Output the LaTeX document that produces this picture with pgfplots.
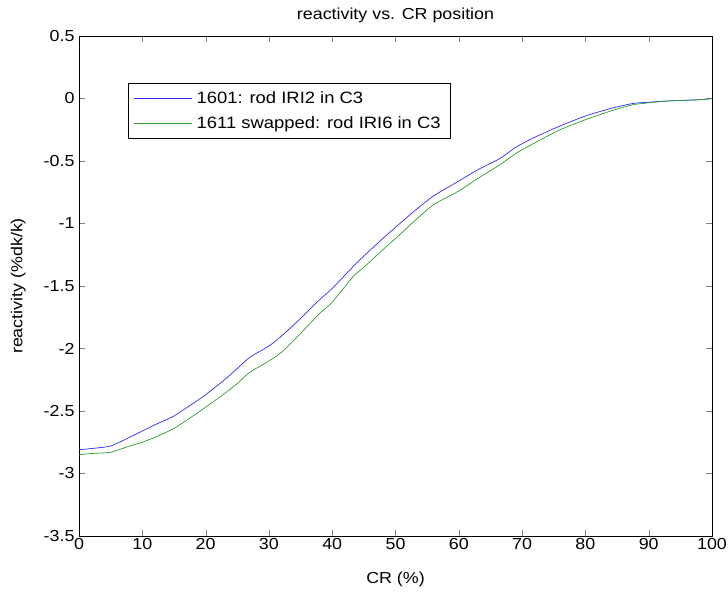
\documentclass[border=0pt]{standalone}
\usepackage{pgfplots}
\pgfplotsset{compat=1.18}
\usepackage{fontspec}
\setmainfont[FakeStretch=1.12]{Liberation Sans}
\definecolor{mblue}{RGB}{45,45,250}
\definecolor{mgreen}{RGB}{45,155,45}
\begin{document}
\begin{tikzpicture}[x=1bp,y=1bp]
\useasboundingbox (0,0) rectangle (728,592);
\begin{axis}[
  at={(79bp,56bp)}, anchor=south west,
  scale only axis, width=633bp, height=500bp,
  xmin=0, xmax=100, ymin=-3.5, ymax=0.5,
  xtick={0,10,...,100},
  ytick={-3.5,-3,...,0.5},
  yticklabels={-3.5,-3,-2.5,-2,-1.5,-1,-0.5,0,0.5},
  tick align=inside, tick pos=both,
  major tick length=6bp,
  /pgf/number format/assume math mode=true,
  tick label style={font=\fontsize{16}{18}\selectfont},
  xticklabel style={yshift=1bp},
  yticklabel style={xshift=-1bp},
  title={reactivity vs. CR position},
  title style={font=\fontsize{16}{18}\selectfont, at={(axis description cs:0.5,1)}, anchor=center, yshift=15bp},
  xlabel={CR (\%)},
  ylabel={reactivity (\%dk/k)},
  label style={font=\fontsize{16}{18}\selectfont},
  xlabel style={at={(axis description cs:0.5,-0.086)}, anchor=center},
  ylabel style={at={(axis description cs:-0.096,0.5)}, anchor=center},
  axis line style={black, line width=0.6bp},
  legend style={at={(0.077,0.906)}, anchor=north west, font=\fontsize{16.5}{18}\selectfont, draw=black, line width=0.6bp, inner xsep=6bp, inner ysep=4.5bp, row sep=3.5bp, nodes={inner sep=4bp}},
  legend cell align=left,
  legend image code/.code={\draw[#1] (0bp,0bp) -- (58bp,0bp);},
]
\addplot[mblue, line width=0.7bp, smooth, tension=0.4] coordinates {
(0,-2.81) (2,-2.80) (5,-2.78) (8,-2.71) (10,-2.66) (12,-2.61) (15,-2.54) (18,-2.44) (20,-2.37) (23,-2.25) (25,-2.16) (27,-2.07) (30,-1.98) (32,-1.90) (35,-1.76) (38,-1.61) (40,-1.52) (43.3,-1.345) (45,-1.26) (48,-1.12) (50,-1.03) (53,-0.90) (56,-0.78) (60,-0.66) (63,-0.57) (66.5,-0.48) (69,-0.39) (72,-0.31) (76,-0.22) (80,-0.14) (84,-0.08) (87.5,-0.04) (90,-0.03) (93,-0.02) (98,-0.01) (100,0)
};
\addlegendentry{1601: rod IRI2 in C3}
\addplot[mgreen, line width=0.7bp, smooth, tension=0.4] coordinates {
(0,-2.85) (2,-2.84) (5,-2.83) (8,-2.78) (10,-2.75) (12,-2.71) (15,-2.64) (18,-2.54) (20,-2.47) (23,-2.36) (25,-2.28) (27,-2.19) (30,-2.10) (32,-2.03) (35,-1.88) (38,-1.72) (40,-1.63) (43.3,-1.425) (45,-1.35) (48,-1.21) (50,-1.12) (53,-0.98) (56,-0.85) (60,-0.74) (63,-0.64) (66.5,-0.53) (69,-0.44) (72,-0.355) (76,-0.25) (80,-0.17) (84,-0.10) (87.5,-0.05) (90,-0.035) (93,-0.02) (98,-0.01) (100,0)
};
\addlegendentry{1611 swapped: rod IRI6 in C3}
\end{axis}
\end{tikzpicture}
\end{document}
